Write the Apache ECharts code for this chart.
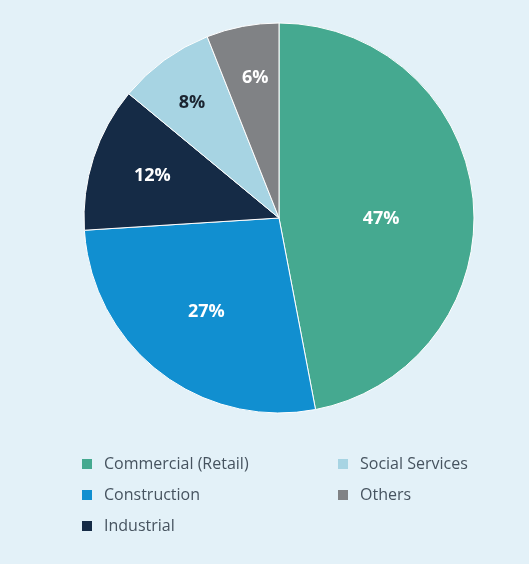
<!DOCTYPE html>
<html>
<head>
<meta charset="utf-8">
<script src="https://cdn.jsdelivr.net/npm/echarts@6/dist/echarts.min.js"></script>
<style>
  html, body { margin: 0; padding: 0; background: #e3f1f8; }
  #chart { width: 529px; height: 564px; }
</style>
</head>
<body>
<div id="chart"></div>
<script>
// Sector share by segment (percent)
const categories = ['Commercial (Retail)', 'Construction', 'Industrial', 'Social Services', 'Others'];
const shares = [47, 27, 12, 8, 6];

const colors = ['#45a990', '#118fd0', '#152b46', '#a7d4e3', '#808285'];
const labelColors = ['#ffffff', '#ffffff', '#ffffff', '#1b2430', '#ffffff'];
// nudges for the in-slice percentage labels
const labelNudge = [[2, 10], [-11, 14], [-31, -11], [-28, -34], [-5, -41]];

const chart = echarts.init(document.getElementById('chart'));

const legendBase = {
  orient: 'vertical',
  icon: 'rect',
  padding: 0,
  itemWidth: 10,
  itemHeight: 10,
  itemGap: 15,
  selectedMode: false,
  itemStyle: { borderWidth: 0 },
  textStyle: {
    fontFamily: 'Open Sans',
    fontSize: 16,
    color: '#46535f',
    padding: [0, 0, 0, 7]
  }
};

chart.setOption({
  backgroundColor: '#e3f1f8',
  color: colors,
  legend: [
    Object.assign({}, legendBase, { left: 82, top: 456, data: categories.slice(0, 3) }),
    Object.assign({}, legendBase, { left: 338, top: 456, data: categories.slice(3) })
  ],
  series: [{
    type: 'pie',
    center: [279, 218],
    radius: [0, 195],
    startAngle: 90,
    clockwise: true,
    animation: false,
    silent: true,
    itemStyle: { borderColor: '#ffffff', borderWidth: 1 },
    label: {
      position: 'inside',
      formatter: '{c}%',
      fontFamily: 'Open Sans',
      fontWeight: 'bold',
      fontSize: 18
    },
    labelLine: { show: false },
    data: categories.map((name, i) => ({
      name,
      value: shares[i],
      label: { color: labelColors[i], offset: labelNudge[i] }
    }))
  }]
});
</script>
</body>
</html>
